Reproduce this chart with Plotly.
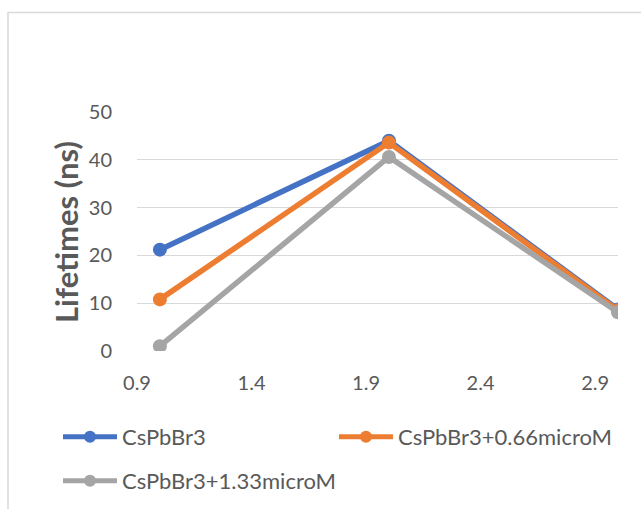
import plotly.graph_objects as go

# Lifetimes measured for three CsPbBr3 samples
x_values = [1, 2, 3]
series_names = ["CsPbBr3", "CsPbBr3+0.66microM", "CsPbBr3+1.33microM"]
lifetimes_pure = [21.2, 44.0, 8.7]
lifetimes_066 = [10.8, 43.6, 8.5]
lifetimes_133 = [1.0, 40.6, 8.1]
series_colors = ["#4472C4", "#ED7D31", "#A5A5A5"]

x_ticks = [0.9, 1.4, 1.9, 2.4, 2.9]
y_ticks = [0, 10, 20, 30, 40, 50]
y_title = "Lifetimes (ns)"

FONT = "Lato, Calibri, Carlito, sans-serif"
TEXT_COLOR = "#595959"
GRID_COLOR = "#D9D9D9"

# plot area in pixels: left 137, right 618, top 112, bottom 351
W, H = 641, 509
L, R, T, B = 137, 618, 112, 351
pw, ph = R - L, B - T


def px_x(p):
    return (p - L) / pw


def px_y(p):
    return (B - p) / ph


# each entry gets its own legend so the two-column layout is fixed
legend_slots = ["legend", "legend2", "legend3"]
legend_pos = [(58, 437), (334, 437), (58, 481)]

fig = go.Figure()
for name, values, color, slot in zip(series_names,
                                     [lifetimes_pure, lifetimes_066, lifetimes_133],
                                     series_colors, legend_slots):
    fig.add_trace(go.Scatter(
        x=x_values, y=values, name=name, mode="lines+markers",
        line=dict(color=color, width=5.5),
        marker=dict(color=color, size=14),
        legend=slot,
    ))

# light outer chart border
fig.add_shape(type="rect", xref="paper", yref="paper",
              x0=px_x(8), x1=px_x(660), y0=px_y(560), y1=px_y(12.5),
              line=dict(color=GRID_COLOR, width=1.5), fillcolor="rgba(0,0,0,0)",
              layer="below")

# vertical axis title
fig.add_annotation(
    text=f"<b>{y_title}</b>", textangle=-90, showarrow=False,
    xref="paper", yref="paper", x=px_x(66), y=px_y(232),
    xanchor="center", yanchor="middle",
    font=dict(family=FONT, size=31, color=TEXT_COLOR),
)

legend_style = dict(
    font=dict(family=FONT, size=22, color=TEXT_COLOR),
    itemwidth=54, itemsizing="constant",
    xref="container", yref="container",
    xanchor="left", yanchor="middle",
    bgcolor="rgba(0,0,0,0)",
)
legends = {}
for slot, (lx, ly) in zip(legend_slots, legend_pos):
    legends[slot] = dict(legend_style, x=lx / W, y=1 - ly / H)

fig.update_layout(
    width=W, height=H,
    margin=dict(l=L, r=W - R, t=T, b=H - B, autoexpand=False),
    paper_bgcolor="white", plot_bgcolor="white",
    font=dict(family=FONT, color=TEXT_COLOR, size=20),
    showlegend=True,
    xaxis=dict(
        range=[0.9, 3.0], tickvals=x_ticks, ticktext=[f"{v:.1f}" for v in x_ticks],
        showgrid=False, zeroline=False, showline=False, ticks="",
        ticklabelstandoff=18,
    ),
    yaxis=dict(
        range=[0, 50], tickvals=y_ticks, showgrid=True, gridcolor=GRID_COLOR,
        gridwidth=1.3, zeroline=False, showline=False, ticks="",
        ticklabelstandoff=24,
    ),
    **legends,
)

fig.write_html("out.html")
